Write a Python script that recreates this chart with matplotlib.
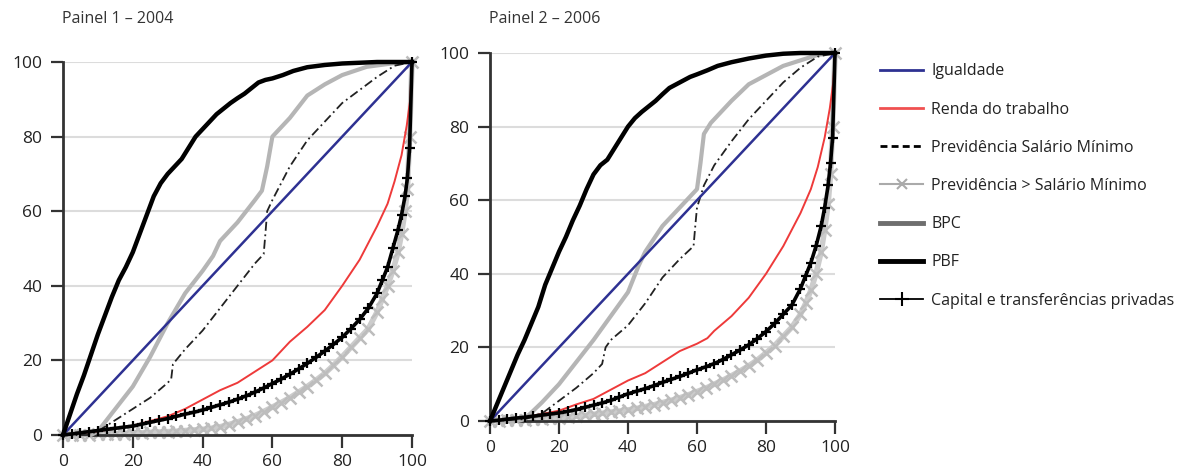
import matplotlib.pyplot as plt
from matplotlib.lines import Line2D

plt.rcParams['font.family'] = ['Open Sans', 'DejaVu Sans']

# ---------------- data ----------------
# Painel 1 - 2004
igual_x = [0, 100]
igual_y = [0, 100]

renda04_x = [0, 10, 20, 30, 35, 40, 45, 50, 55, 60, 65, 70, 75, 80, 85, 90, 93, 95, 97, 98.5, 99.5, 100]
renda04_y = [0, 1, 2.5, 5, 7, 9.5, 12, 14, 17, 20, 25, 29, 33.5, 40, 47, 56, 62, 68, 75, 83, 90, 100]

prevsm04_x = [0, 7, 10, 15, 20, 25, 30, 31, 31.5, 35, 40, 45, 50, 55, 57.5, 58, 58.5, 60, 65, 70, 75, 80, 85, 90, 95, 100]
prevsm04_y = [0, 0, 1, 4, 7, 10, 14, 15, 19, 23, 28, 34, 40, 46, 48.5, 54, 60, 63, 72, 79, 84, 89, 92.5, 96, 99, 100]

bpc04_x = [0, 8, 10, 15, 20, 25, 30, 35, 40, 43, 45, 50, 55, 57, 58.5, 60, 62, 65, 70, 75, 80, 87, 95, 100]
bpc04_y = [0, 0, 1, 7, 13, 21, 30, 38, 44, 48, 52, 57, 63, 65.5, 72, 80, 82, 85, 91, 94, 96.5, 98.7, 99.7, 100]

pbf_x = [0, 2, 4, 6, 8, 10, 12, 14, 16, 18, 20, 22, 24, 26, 28, 30, 32, 34, 36, 38, 40, 42, 44, 46, 48,
         50, 52, 54, 56, 58, 60, 63, 66, 70, 75, 80, 85, 90, 100]
pbf04_y = [0, 5.5, 11, 16, 21.5, 27, 32, 37, 41.5, 45, 49, 54, 59, 64, 67.5, 70, 72, 74, 77, 80, 82, 84, 86,
           87.5, 89, 90.3, 91.5, 93, 94.5, 95.2, 95.6, 96.5, 97.6, 98.6, 99.2, 99.6, 99.8, 100, 100]

# dense curves (markers on every reading)
dense_x = [0, 2.5, 5, 7.5, 10, 12.5, 15, 17.5, 20, 22.5, 25, 27.5, 30, 32.5, 35, 37.5, 40, 42.5, 45, 47.5,
           50, 52.5, 55, 57.5, 60, 62.5, 65, 67.5, 70, 72.5, 75, 77.5, 80, 82.5, 85, 87.5, 90, 91.5, 93,
           94.5, 96, 97, 98, 98.7, 99.3, 100]
cap04_y = [0, 0.3, 0.6, 0.9, 1.2, 1.5, 1.8, 2.1, 2.4, 2.9, 3.4, 3.9, 4.4, 5, 5.6, 6.1, 6.7, 7.4, 8.1, 8.8,
           9.6, 10.5, 11.5, 12.6, 13.8, 15, 16.3, 17.7, 19.2, 20.8, 22.5, 24.3, 26.2, 28.5, 31, 34, 38, 41.5,
           45, 50, 55, 59, 64, 69, 77, 100]
prevmais04_y = [0, 0, 0.05, 0.1, 0.15, 0.2, 0.3, 0.4, 0.5, 0.6, 0.7, 0.8, 0.9, 1.0, 1.2, 1.35, 1.5, 1.8, 2.2,
                2.8, 3.5, 4.3, 5.2, 6.3, 7.5, 8.7, 10, 11.5, 13, 14.7, 16.5, 18.7, 21, 23.5, 26, 28.5, 33,
                36.5, 40, 44, 49, 54, 60, 66, 80, 100]

# Painel 2 - 2006
renda06_x = [0, 10, 20, 25, 30, 35, 40, 45, 50, 55, 60, 63, 65, 70, 75, 80, 85, 90, 93, 95, 97, 98.5, 99.5, 100]
renda06_y = [0, 1, 2.8, 4.5, 6, 8.5, 11, 13, 16, 19, 21, 22.5, 24.5, 28.5, 33.5, 40, 47.5, 56.5, 63, 69, 77, 85, 92, 100]

prevsm06_x = [0, 10, 15, 20, 25, 30, 32.5, 33.5, 35, 40, 45, 50, 55, 59, 59.5, 60, 62, 65, 70, 75, 80, 85, 90, 95, 100]
prevsm06_y = [0, 0.5, 2, 5.5, 9, 13, 15.5, 20, 22, 26, 32, 39, 44, 47.5, 53, 58, 64, 69.5, 76, 82, 87, 92, 96, 99, 100]

bpc06_x = [0, 8, 10, 15, 20, 25, 30, 35, 40, 43, 45, 50, 55, 58, 60, 61, 62, 64, 70, 75, 80, 85, 90, 95, 100]
bpc06_y = [0, 0, 0.5, 5, 10, 16, 22, 28.5, 35, 42, 46, 53, 58, 61, 63, 70, 78, 81, 87, 91.5, 94, 96.5, 98, 99.5, 100]

pbf06_y = [0, 4.5, 9, 13.5, 18, 22, 26.5, 31, 37, 41.5, 46, 50, 54.5, 58.5, 63, 67, 69.5, 71, 74, 77, 80,
           82.3, 84, 85.5, 87, 88.8, 90.5, 91.5, 92.5, 93.5, 94.2, 95.3, 96.5, 97.5, 98.5, 99.3, 99.8, 100, 100]

cap06_y = [0, 0.2, 0.5, 0.8, 1.0, 1.3, 1.6, 1.9, 2.2, 2.6, 3.1, 3.7, 4.3, 4.9, 5.6, 6.5, 7.4, 8.1, 8.8, 9.6,
           10.5, 11.3, 12.1, 13, 13.9, 14.7, 15.6, 16.7, 18, 19.3, 20.7, 22.4, 24.3, 26.5, 29, 31.5, 36, 39.5,
           43, 47.5, 53, 58, 64, 70, 77, 100]
prevmais06_y = [0, 0.1, 0.2, 0.3, 0.4, 0.5, 0.6, 0.7, 0.9, 1.1, 1.3, 1.5, 1.8, 2.1, 2.4, 2.7, 3.0, 3.4, 3.9,
                4.4, 5, 5.6, 6.3, 7.1, 8, 8.9, 10, 11.1, 12.3, 13.6, 15, 16.6, 18.5, 20.5, 23, 25.5, 29, 32,
                35.5, 40, 46, 52, 59, 67, 80, 100]

ticks = [0, 20, 40, 60, 80, 100]
labels = ['Igualdade', 'Renda do trabalho', 'Previdência Salário Mínimo', 'Previdência > Salário Mínimo',
          'BPC', 'PBF', 'Capital e transferências privadas']

BLUE = '#2e3192'
RED = '#ee3a3a'
DARK = '#333333'

fig = plt.figure(figsize=(11.93, 4.75), dpi=100)
ax1 = fig.add_axes([63 / 1193, 1 - 435 / 475, 349 / 1193, 373 / 475])
ax2 = fig.add_axes([490 / 1193, 1 - 421 / 475, 345 / 1193, 368 / 475])


def draw(ax, renda, prevsm, bpc, pbf_y, cap_y, prevmais_y):
    ax.plot(dense_x, prevmais_y, color='#cccccc', lw=4, clip_on=False, zorder=2)
    ax.plot(dense_x, prevmais_y, color='#bdbdbd', ls='none', marker='x', ms=8, mew=1.8, clip_on=False, zorder=2)
    ax.plot(bpc[0], bpc[1], color='#b5b5b5', lw=3, clip_on=False, zorder=3)
    ax.plot(renda[0], renda[1], color=RED, lw=1.4, clip_on=False, zorder=4)
    ax.plot(dense_x, cap_y, color='black', marker='+', ms=7, mew=1.6, lw=2.6, clip_on=False, zorder=5)
    ax.plot(prevsm[0], prevsm[1], color='#222222', lw=1.3, ls=(0, (5, 2, 1, 2)), clip_on=False, zorder=4)
    ax.plot(igual_x, igual_y, color=BLUE, lw=1.8, clip_on=False, zorder=4)
    ax.plot(pbf_x, pbf_y, color='black', lw=3.2, clip_on=False, zorder=6)

    ax.set_xlim(0, 100)
    ax.set_ylim(0, 100)
    ax.set_xticks(ticks)
    ax.set_yticks(ticks)
    ax.yaxis.grid(True, color='#dcdcdc', lw=1.5)
    ax.set_axisbelow(True)
    for s in ['top', 'right']:
        ax.spines[s].set_visible(False)
    for s in ['left', 'bottom']:
        ax.spines[s].set_color(DARK)
        ax.spines[s].set_linewidth(2)
    ax.tick_params(direction='out', length=9, width=1.6, color=DARK, labelsize=12.5, labelcolor='#222222')
    ax.tick_params(axis='y', pad=6)
    ax.tick_params(axis='x', pad=5)


draw(ax1, (renda04_x, renda04_y), (prevsm04_x, prevsm04_y), (bpc04_x, bpc04_y), pbf04_y,
     cap04_y, prevmais04_y)
draw(ax2, (renda06_x, renda06_y), (prevsm06_x, prevsm06_y), (bpc06_x, bpc06_y), pbf06_y,
     cap06_y, prevmais06_y)

fig.text(62 / 1193, 1 - 19 / 475, 'Painel 1 – 2004', va='center', fontsize=11.5, color=DARK)
fig.text(489 / 1193, 1 - 19 / 475, 'Painel 2 – 2006', va='center', fontsize=11.5, color=DARK)

handles = [
    Line2D([], [], color=BLUE, lw=2),
    Line2D([], [], color='#f05050', lw=2),
    Line2D([], [], color='black', lw=2, ls=(0, (2.5, 1.5))),
    Line2D([], [], color='#aaaaaa', lw=1.5, marker='x', ms=7, mew=1.5, markevery=[1]),
    Line2D([], [], color='#6e6e6e', lw=3.5),
    Line2D([], [], color='black', lw=3.5),
    Line2D([], [], color='black', lw=1.3, marker='+', ms=10, mew=1.5, markevery=[1]),
]
for h in handles:
    h.set_data([0, 0.5, 1], [0, 0, 0])
fig.legend(handles, labels, loc='upper left', bbox_to_anchor=(866 / 1193, 1 - 49 / 475), frameon=False,
           fontsize=11.5, labelspacing=1.39, handlelength=2.7, handletextpad=0.5, labelcolor='#222222')

fig.savefig('out.png', dpi=100)
